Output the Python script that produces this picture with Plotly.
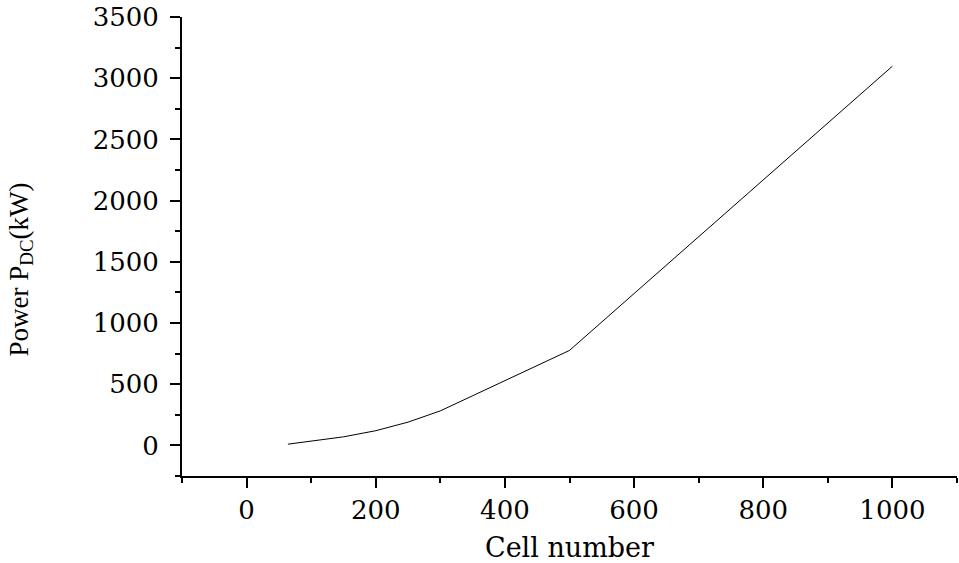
import plotly.graph_objects as go

cells = [64, 100, 150, 200, 250, 300, 500, 1000]
power_kw = [10, 35, 70, 120, 190, 282, 776, 3098]

x_ticks = [0, 200, 400, 600, 800, 1000]
y_ticks = [0, 500, 1000, 1500, 2000, 2500, 3000, 3500]

fig = go.Figure()
fig.add_trace(go.Scatter(x=cells, y=power_kw, mode="lines",
                         line=dict(color="black", width=1), showlegend=False))

tickfont = dict(family="DejaVu Serif", size=26, color="black")
fig.update_layout(
    width=959, height=563,
    margin=dict(l=182, r=2, t=14, b=87),
    paper_bgcolor="white", plot_bgcolor="white",
    xaxis=dict(range=[-100, 1100], tickvals=x_ticks, showgrid=False, zeroline=False,
               showline=True, linecolor="black", linewidth=2,
               ticks="outside", ticklen=10, tickwidth=2, tickcolor="black",
               minor=dict(dtick=100, tick0=0, ticks="outside", ticklen=5, tickwidth=2, tickcolor="black"),
               tickfont=tickfont, ticklabeloverflow="allow",
               title=dict(text="Cell number", font=dict(family="DejaVu Serif", size=27, color="black"), standoff=16)),
    yaxis=dict(range=[-250, 3500], tickvals=y_ticks, showgrid=False, zeroline=False,
               showline=True, linecolor="black", linewidth=2,
               ticks="outside", ticklen=10, tickwidth=2, tickcolor="black",
               minor=dict(dtick=250, tick0=0, ticks="outside", ticklen=5, tickwidth=2, tickcolor="black"),
               tickfont=tickfont, ticklabelstandoff=6, ticklabeloverflow="allow"),
    annotations=[dict(text="Power P<sub>DC</sub>(kW)", textangle=-90, showarrow=False,
                      xref="paper", yref="paper", x=-0.2077, y=0.45,
                      xanchor="center", yanchor="middle",
                      font=dict(family="Liberation Serif", size=27, color="black"))],
)
fig.write_html("out.html")
